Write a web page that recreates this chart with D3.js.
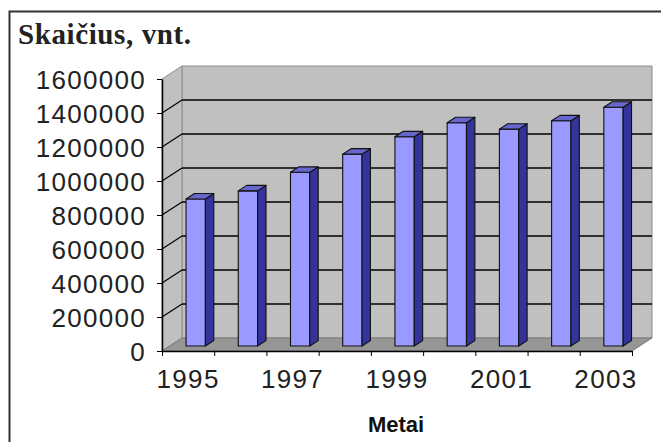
<!DOCTYPE html>
<html>
<head>
<meta charset="utf-8">
<script src="https://cdn.jsdelivr.net/npm/d3@7"></script>
<style>
  html, body { margin: 0; padding: 0; background: #fff; }
  svg { display: block; }
  .axis text { font-family: "Liberation Sans", Arial, sans-serif; font-size: 26px; letter-spacing: 1.3px; fill: #222; }
  .axis path, .axis line { stroke: #000; }
</style>
</head>
<body>
<div id="chart"></div>
<script>
const years = ['1995', '1996', '1997', '1998', '1999', '2000', '2001', '2002', '2003'];
const counts = [865000, 913000, 1022000, 1129000, 1231000, 1314000, 1276000, 1325000, 1405000];
const yTicks = [0, 200000, 400000, 600000, 800000, 1000000, 1200000, 1400000, 1600000];
const xLabels = ['1995', '1997', '1999', '2001', '2003'];

const width = 661;
const height = 442;

// depth of the 3d box in px
const DX = 20;
const DY = 13;
// bar sits between these depth fractions
const z0 = 0.38;
const z1 = 0.8;

const x = d3.scaleBand()
  .domain(years)
  .range([162, 632])
  .paddingInner(0.63)
  .paddingOuter(0.315);

const xEdge = d3.scaleLinear()
  .domain([0, years.length])
  .range([162, 632]);

const y = d3.scaleLinear()
  .domain([0, 1600000])
  .range([351, 79]);

const proj = (px, py, z) => [px + z * DX, py - z * DY];
const poly = pts => pts.map(p => p.join(',')).join(' ');

const svg = d3.select('#chart')
  .append('svg')
    .attr('width', width)
    .attr('height', height);

// outer frame
svg.append('rect')
  .attr('x', 9.5)
  .attr('y', 11.5)
  .attr('width', 700)
  .attr('height', 500)
  .attr('fill', '#fff')
  .attr('stroke', '#333')
  .attr('stroke-width', 2);

svg.append('text')
  .attr('x', 18)
  .attr('y', 44)
  .attr('font-family', '"Liberation Serif", "Times New Roman", serif')
  .attr('font-weight', 'bold')
  .attr('font-size', 29)
  .attr('letter-spacing', 0.6)
  .attr('fill', '#222')
  .text('Skaičius, vnt.');

const [x0, x1] = x.range();
const yb = y(0);
const yt = y(1600000);

// back wall
svg.append('polygon')
  .attr('points', poly([proj(x0, yt, 1), proj(x1, yt, 1), proj(x1, yb, 1), proj(x0, yb, 1)]))
  .attr('fill', '#c0c0c0')
  .attr('stroke', '#8c8c8c');

// side wall
svg.append('polygon')
  .attr('points', poly([proj(x0, yt, 0), proj(x0, yt, 1), proj(x0, yb, 1), proj(x0, yb, 0)]))
  .attr('fill', '#c0c0c0')
  .attr('stroke', '#8c8c8c');

// floor
svg.append('polygon')
  .attr('points', poly([proj(x0, yb, 0), proj(x0, yb, 1), proj(x1, yb, 1), proj(x1, yb, 0)]))
  .attr('fill', '#969696')
  .attr('stroke', '#7a7a7a');

// gridlines on back and side walls
const grid = yTicks.filter(d => d > 0 && d < 1600000);
svg.selectAll('.grid-back')
  .data(grid)
  .enter().append('line')
    .attr('class', 'grid-back')
    .attr('x1', proj(x0, 0, 1)[0])
    .attr('x2', proj(x1, 0, 1)[0])
    .attr('y1', d => proj(0, y(d), 1)[1])
    .attr('y2', d => proj(0, y(d), 1)[1])
    .attr('stroke', '#000')
    .attr('stroke-width', 1.3);

svg.selectAll('.grid-side')
  .data(grid)
  .enter().append('line')
    .attr('class', 'grid-side')
    .attr('x1', x0)
    .attr('y1', d => y(d))
    .attr('x2', proj(x0, 0, 1)[0])
    .attr('y2', d => proj(0, y(d), 1)[1])
    .attr('stroke', '#000')
    .attr('stroke-width', 1.2);

// bars
const bar = svg.selectAll('.bar')
  .data(years.map((d, i) => ({ year: d, value: counts[i] })))
  .enter().append('g')
    .attr('class', 'bar')
    .attr('stroke', '#111')
    .attr('stroke-width', 1.1)
    .attr('stroke-linejoin', 'round');

const bw = x.bandwidth();

bar.append('polygon')
  .attr('fill', '#9999ff')
  .attr('points', d => {
    const l = x(d.year), r = l + bw, t = y(d.value);
    return poly([proj(l, t, z0), proj(r, t, z0), proj(r, yb, z0), proj(l, yb, z0)]);
  });

bar.append('polygon')
  .attr('fill', '#333399')
  .attr('points', d => {
    const r = x(d.year) + bw, t = y(d.value);
    return poly([proj(r, t, z0), proj(r, t, z1), proj(r, yb, z1), proj(r, yb, z0)]);
  });

bar.append('polygon')
  .attr('fill', '#6666cc')
  .attr('points', d => {
    const l = x(d.year), r = l + bw, t = y(d.value);
    return poly([proj(l, t, z0), proj(l, t, z1), proj(r, t, z1), proj(r, t, z0)]);
  });

// y axis
const yAxis = svg.append('g')
  .attr('class', 'axis axis-y')
  .attr('transform', `translate(${x0}, 0)`)
  .call(d3.axisLeft(y).tickValues(yTicks).tickSize(5).tickSizeOuter(0).tickPadding(11).tickFormat(d3.format('d')));
yAxis.select('.domain').attr('stroke-width', 1.5);
yAxis.selectAll('text').attr('dy', '0.36em');

// x axis: tick marks at category edges, labels at every second category
const xAxis = svg.append('g')
  .attr('class', 'axis axis-x')
  .attr('transform', `translate(0, ${yb})`)
  .call(d3.axisBottom(xEdge).ticks(years.length).tickSize(5).tickSizeOuter(0).tickFormat(''));
xAxis.select('.domain').attr('stroke-width', 1.5);

svg.append('g')
  .attr('class', 'axis axis-x-labels')
  .attr('transform', `translate(0, ${yb})`)
  .call(d3.axisBottom(x).tickValues(xLabels).tickSize(0).tickPadding(19))
  .call(g => g.select('.domain').remove());

svg.append('text')
  .attr('x', 396)
  .attr('y', 432)
  .attr('text-anchor', 'middle')
  .attr('font-family', '"Liberation Sans", Arial, sans-serif')
  .attr('font-weight', 'bold')
  .attr('font-size', 22)
  .attr('fill', '#111')
  .text('Metai');
</script>
</body>
</html>
